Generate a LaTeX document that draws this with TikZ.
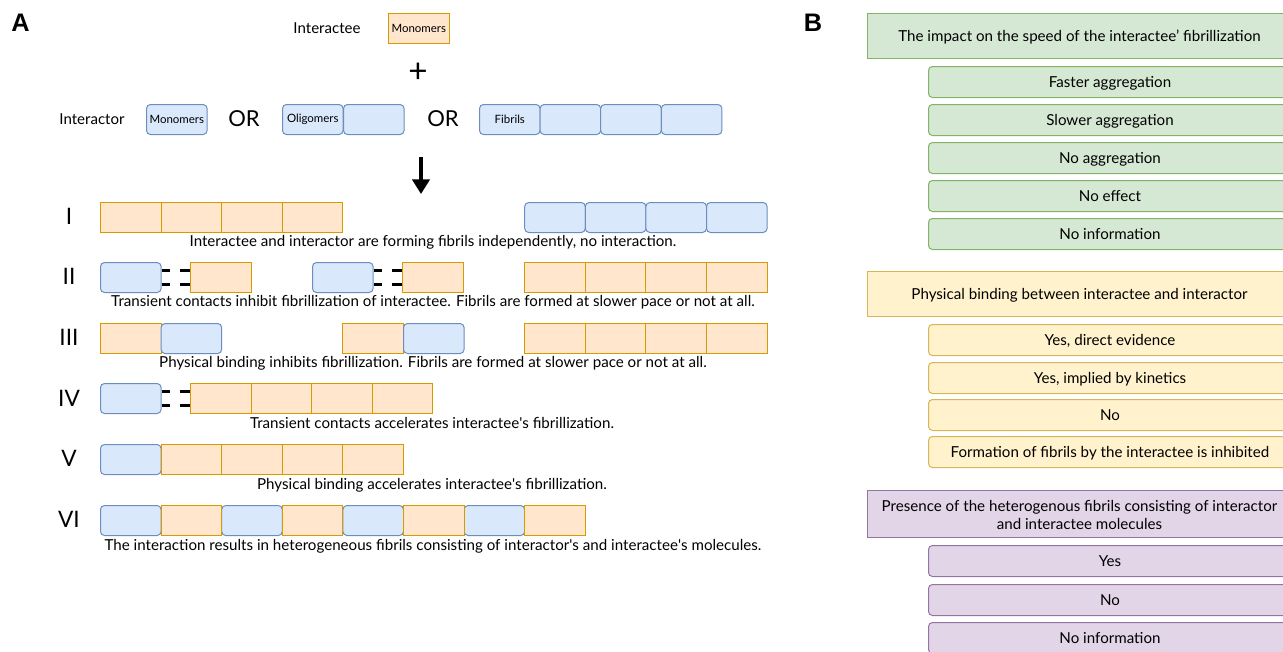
\documentclass[tikz,border=0pt]{standalone}
\usepackage{fontspec}
\setmainfont{Lato}
\newfontfamily\labfont{Liberation Sans}
\usetikzlibrary{arrows.meta}
\definecolor{bfill}{HTML}{DAE8FC}
\definecolor{bdraw}{HTML}{6C8EBF}
\definecolor{ofill}{HTML}{FFE6CC}
\definecolor{odraw}{HTML}{D79B00}
\definecolor{gfill}{HTML}{D5E8D4}
\definecolor{gdraw}{HTML}{82B366}
\definecolor{yfill}{HTML}{FFF2CC}
\definecolor{ydraw}{HTML}{D6B656}
\definecolor{pfill}{HTML}{E1D5E7}
\definecolor{pdraw}{HTML}{9673A6}
\newcommand{\sq}{\textquotesingle}
\tikzset{
  xcell/.style={minimum width=45.45pt, minimum height=22.5pt, inner sep=0pt, anchor=north west, line width=0.75pt, font=\fontsize{8.6pt}{10pt}\selectfont},
  bcell/.style={xcell, draw=bdraw, fill=bfill, rounded corners=3pt},
  ocell/.style={xcell, draw=odraw, fill=ofill},
  captext/.style={font=\fontsize{11.35pt}{13pt}\selectfont, inner sep=0pt},
  romantext/.style={font=\fontsize{17pt}{19pt}\selectfont, inner sep=0pt},
  bigtext/.style={font=\fontsize{16.5pt}{18pt}\selectfont, inner sep=0pt},
  midtext/.style={font=\fontsize{11.3pt}{13pt}\selectfont, inner sep=0pt},
  paneltext/.style={font=\labfont\bfseries\fontsize{19pt}{21pt}\selectfont, inner sep=0pt},
  contactline/.style={line width=2.25pt, dash pattern=on 6pt off 7.5pt on 7.5pt off 5pt},
  hdbox/.style={anchor=north west, minimum width=318pt, line width=0.75pt, inner sep=0pt, align=center, text height=11pt, text depth=2.2pt, font=\fontsize{11.35pt}{13.5pt}\selectfont},
  optbox/.style={anchor=north west, minimum width=272.25pt, minimum height=23.25pt, rounded corners=3pt, line width=0.75pt, inner sep=0pt, text height=11pt, text depth=2.2pt, font=\fontsize{11.35pt}{13pt}\selectfont},
}
\begin{document}
\begin{tikzpicture}[x=0.75pt,y=-0.75pt]
\useasboundingbox (0,0) rectangle (1283,651);
\clip (0,0) rectangle (1283,651);
% ---------- Panel A ----------
\node[paneltext] (A) at (20.5,23) {A};
\node[midtext] (tee) at (327,28) {Interactee};
\node[ocell] (teeM) at (388,13) {Monomers};
\node[font=\fontsize{25pt}{27pt}\selectfont, inner sep=0pt] (plus) at (418,73) {+};
\node[midtext] (tor) at (92,119) {Interactor};
\node[bcell] (torM) at (146,104) {Monomers};
\node[bigtext] (or1) at (244,119) {OR};
\node[bcell] (olig1) at (282,104) {Oligomers};
\node[bcell] (olig2) at (343,104) {};
\node[bigtext] (or2) at (443,119) {OR};
\node[bcell] (fib1) at (479,104) {Fibrils};
\node[bcell] (fib2) at (539.6,104) {};
\node[bcell] (fib3) at (600.2,104) {};
\node[bcell] (fib4) at (660.8,104) {};
\coordinate (arS) at (421,157);
\coordinate (arE) at (421,194);
\draw[line width=2.5pt, -{Triangle[length=11pt,width=13pt]}] (arS) -- (arE);
% Row I
\node[romantext] (rI) at (69,216) {I};
\foreach \i in {0,...,3} \node[ocell] (r1o\i) at (100+60.6*\i,202) {};
\foreach \i in {7,...,10} \node[bcell] (r1b\i) at (100+60.6*\i,202) {};
\node[captext] (c1) at (433,242) {Interactee and interactor are forming fibrils independently, no interaction.};
% Row II
\node[romantext] (rII) at (69,276) {II};
\node[bcell] (r2b1) at (100,262) {};
\node[ocell] (r2o1) at (190,262) {};
\node[bcell] (r2b2) at (312,262) {};
\node[ocell] (r2o2) at (402,262) {};
\draw[contactline] ([yshift=5.6pt]r2b1.east) -- ([yshift=5.6pt]r2o1.west);
\draw[contactline] ([yshift=-5.6pt]r2b1.east) -- ([yshift=-5.6pt]r2o1.west);
\draw[contactline] ([yshift=5.6pt]r2b2.east) -- ([yshift=5.6pt]r2o2.west);
\draw[contactline] ([yshift=-5.6pt]r2b2.east) -- ([yshift=-5.6pt]r2o2.west);
\foreach \i in {7,...,10} \node[ocell] (r2f\i) at (100+60.6*\i,262) {};
\node[captext] (c2) at (433,302) {Transient contacts inhibit fibrillization of interactee. Fibrils are formed at slower pace or not at all.};
% Row III
\node[romantext] (rIII) at (69,337) {III};
\node[ocell] (r3o1) at (100,323) {};
\node[bcell] (r3b1) at (160.6,323) {};
\node[ocell] (r3o2) at (342.4,323) {};
\node[bcell] (r3b2) at (403,323) {};
\foreach \i in {7,...,10} \node[ocell] (r3f\i) at (100+60.6*\i,323) {};
\node[captext] (c3) at (433,363) {Physical binding inhibits fibrillization. Fibrils are formed at slower pace or not at all.};
% Row IV
\node[romantext] (rIV) at (69,398) {IV};
\node[bcell] (r4b) at (100,383) {};
\foreach \i in {0,...,3} \node[ocell] (r4o\i) at (190+60.6*\i,383) {};
\draw[contactline] ([yshift=5.6pt]r4b.east) -- ([yshift=5.6pt]r4o0.west);
\draw[contactline] ([yshift=-5.6pt]r4b.east) -- ([yshift=-5.6pt]r4o0.west);
\node[captext] (c4) at (432,423) {Transient contacts accelerates interactee\sq s fibrillization.};
% Row V
\node[romantext] (rV) at (69,458) {V};
\node[bcell] (r5b) at (100,444) {};
\foreach \i in {1,...,4} \node[ocell] (r5o\i) at (100+60.6*\i,444) {};
\node[captext] (c5) at (432,485) {Physical binding accelerates interactee\sq s fibrillization.};
% Row VI
\node[romantext] (rVI) at (69,519) {VI};
\foreach \i in {0,2,4,6} \node[bcell] (r6b\i) at (100+60.6*\i,505) {};
\foreach \i in {1,3,5,7} \node[ocell] (r6o\i) at (100+60.6*\i,505) {};
\node[captext] (c6) at (433,546) {The interaction results in heterogeneous fibrils consisting of interactor\sq s and interactee\sq s molecules.};
% ---------- Panel B ----------
\node[paneltext] (B) at (813,23) {B};
\node[hdbox, draw=gdraw, fill=gfill, minimum height=33.75pt] (h1) at (867,13) {The impact on the speed of the interactee’ fibrillization};
\node[optbox, draw=gdraw, fill=gfill] (g1) at (928,66) {Faster aggregation};
\node[optbox, draw=gdraw, fill=gfill] (g2) at (928,104) {Slower aggregation};
\node[optbox, draw=gdraw, fill=gfill] (g3) at (928,142) {No aggregation};
\node[optbox, draw=gdraw, fill=gfill] (g4) at (928,180) {No effect};
\node[optbox, draw=gdraw, fill=gfill] (g5) at (928,218) {No information};
\node[hdbox, draw=ydraw, fill=yfill, minimum height=33.75pt] (h2) at (867,271) {Physical binding between interactee and interactor};
\node[optbox, draw=ydraw, fill=yfill] (y1) at (928,324) {Yes, direct evidence};
\node[optbox, draw=ydraw, fill=yfill] (y2) at (928,362) {Yes, implied by kinetics};
\node[optbox, draw=ydraw, fill=yfill] (y3) at (928,399) {No};
\node[optbox, draw=ydraw, fill=yfill] (y4) at (928,436) {Formation of fibrils by the interactee is inhibited};
\node[hdbox, draw=pdraw, fill=pfill, minimum height=35.25pt, text height=24.8pt, text depth=2.2pt] (h3) at (867,490) {Presence of the heterogenous fibrils consisting of interactor\\and interactee molecules};
\node[optbox, draw=pdraw, fill=pfill] (p1) at (928,545) {Yes};
\node[optbox, draw=pdraw, fill=pfill] (p2) at (928,584) {No};
\node[optbox, draw=pdraw, fill=pfill] (p3) at (928,622) {No information};
\end{tikzpicture}
\end{document}
